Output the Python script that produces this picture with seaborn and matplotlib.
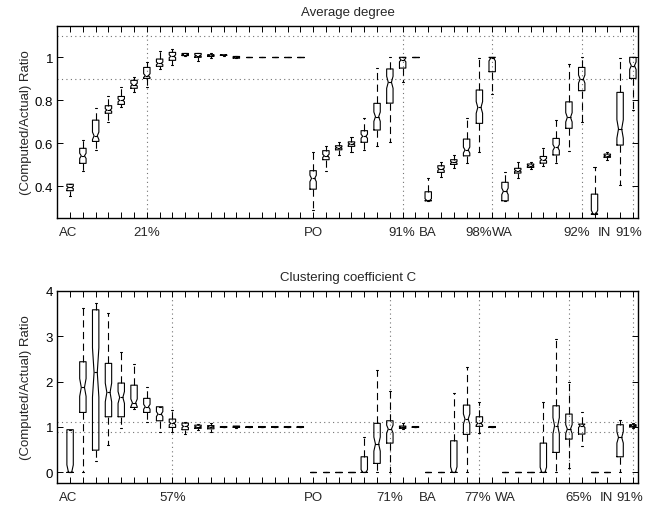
import numpy as np
import pandas as pd
import matplotlib
matplotlib.use("Agg")
import matplotlib.pyplot as plt
from matplotlib.transforms import ScaledTranslation
import seaborn as sns

# Graph families and the number of sampling levels in each
families = ["AC", "PO", "BA", "WA", "IN"]
family_sizes = [19, 9, 6, 7, 4]

# Average degree: (computed/actual) five-number summaries per sampling level
deg_lo = [0.355, 0.470, 0.569, 0.700, 0.767, 0.837, 0.860, 0.946, 0.966, 1.005,
          0.982, 0.998, 1.008, 0.995, 1.000, 1.000, 1.000, 1.000, 1.000,
          0.291, 0.473, 0.546, 0.561, 0.569, 0.586, 0.605, 0.884, 1.000,
          0.333, 0.445, 0.484, 0.508, 0.561, 0.830,
          0.333, 0.437, 0.480, 0.496, 0.508, 0.566, 0.698,
          0.271, 0.524, 0.407, 0.754]
deg_q1 = [0.380, 0.507, 0.609, 0.740, 0.781, 0.856, 0.902, 0.958, 0.986, 1.008,
          1.000, 1.004, 1.009, 0.996, 1.000, 1.000, 1.000, 1.000, 1.000,
          0.387, 0.524, 0.570, 0.586, 0.605, 0.662, 0.787, 0.950, 1.000,
          0.333, 0.465, 0.502, 0.542, 0.693, 0.933,
          0.333, 0.462, 0.488, 0.508, 0.546, 0.670, 0.845,
          0.271, 0.535, 0.592, 0.902]
deg_med = [0.395, 0.542, 0.635, 0.755, 0.800, 0.873, 0.915, 0.972, 1.005, 1.013,
           1.008, 1.008, 1.010, 1.000, 1.000, 1.000, 1.000, 1.000, 1.000,
           0.437, 0.542, 0.580, 0.597, 0.633, 0.724, 0.884, 0.988, 1.000,
           0.335, 0.480, 0.512, 0.569, 0.767, 0.995,
           0.377, 0.473, 0.496, 0.524, 0.581, 0.721, 0.899,
           0.273, 0.542, 0.667, 0.961]
deg_q3 = [0.410, 0.577, 0.708, 0.775, 0.818, 0.893, 0.953, 0.992, 1.023, 1.018,
          1.018, 1.012, 1.011, 1.004, 1.000, 1.000, 1.000, 1.000, 1.000,
          0.473, 0.566, 0.589, 0.607, 0.659, 0.786, 0.946, 1.000, 1.000,
          0.375, 0.496, 0.524, 0.620, 0.848, 1.000,
          0.419, 0.484, 0.504, 0.539, 0.623, 0.793, 0.953,
          0.364, 0.550, 0.837, 1.000]
deg_hi = [0.410, 0.615, 0.763, 0.820, 0.860, 0.907, 0.977, 1.028, 1.037, 1.020,
          1.020, 1.018, 1.012, 1.006, 1.000, 1.000, 1.000, 1.000, 1.000,
          0.561, 0.589, 0.607, 0.631, 0.719, 0.950, 1.000, 1.000, 1.000,
          0.437, 0.514, 0.546, 0.716, 0.997, 1.000,
          0.468, 0.512, 0.514, 0.577, 0.710, 0.969, 1.000,
          0.490, 0.561, 0.997, 1.000]

# Clustering coefficient C: (computed/actual) five-number summaries
clu_lo = [0.000, 0.000, 0.255, 0.600, 0.970, 1.390, 1.115, 0.880, 0.895, 0.844,
          0.940, 0.900, 0.990, 0.980, 0.990, 0.990, 0.990, 0.990, 0.990,
          0.000, 0.000, 0.000, 0.000, 0.000, 0.000, 0.000, 0.950, 0.990,
          0.000, 0.000, 0.000, 0.000, 0.859, 0.990,
          0.000, 0.000, 0.000, 0.000, 0.000, 0.088, 0.572,
          0.000, 0.000, 0.000, 0.980]
clu_q1 = [0.000, 1.320, 0.490, 1.225, 1.225, 1.430, 1.320, 1.137, 0.990, 0.940,
          0.970, 0.960, 0.990, 0.990, 0.990, 0.990, 0.990, 0.990, 0.990,
          0.000, 0.000, 0.000, 0.000, 0.000, 0.198, 0.645, 0.970, 0.990,
          0.000, 0.000, 0.000, 0.837, 1.013, 0.990,
          0.000, 0.000, 0.000, 0.000, 0.440, 0.733, 0.844,
          0.000, 0.000, 0.344, 1.000]
clu_med = [0.000, 1.870, 2.200, 1.760, 1.650, 1.530, 1.445, 1.284, 1.080, 1.013,
           1.000, 1.000, 1.000, 1.000, 1.000, 1.000, 1.000, 1.000, 1.000,
           0.000, 0.000, 0.000, 0.000, 0.000, 0.623, 0.954, 0.990, 1.000,
           0.000, 0.000, 0.000, 1.174, 1.080, 1.000,
           0.000, 0.000, 0.000, 0.000, 1.027, 0.954, 1.027,
           0.000, 0.000, 0.770, 1.027]
clu_q3 = [0.940, 2.436, 3.580, 2.400, 1.967, 1.920, 1.630, 1.445, 1.174, 1.086,
          1.040, 1.030, 1.010, 1.020, 1.010, 1.010, 1.010, 1.010, 1.010,
          0.000, 0.000, 0.000, 0.000, 0.344, 1.080, 1.137, 1.020, 1.010,
          0.000, 0.000, 0.696, 1.482, 1.225, 1.010,
          0.000, 0.000, 0.000, 0.645, 1.467, 1.284, 1.064,
          0.000, 0.000, 1.050, 1.050]
clu_hi = [0.940, 3.630, 3.740, 3.520, 2.660, 2.385, 1.885, 1.445, 1.372, 1.115,
          1.060, 1.086, 1.010, 1.030, 1.010, 1.010, 1.010, 1.010, 1.010,
          0.000, 0.000, 0.000, 0.000, 0.770, 2.260, 1.800, 1.090, 1.010,
          0.000, 0.000, 1.747, 2.326, 1.540, 1.010,
          0.000, 0.000, 0.000, 1.556, 2.936, 1.982, 1.335,
          0.000, 0.000, 1.152, 1.080]

# Level (within each family) at which the ratio settles into the 0.9-1.1 band
deg_mark_index = [6, 7, 5, 6, 3]
deg_mark_text = ["21%", "91%", "98%", "92%", "91%"]
clu_mark_index = [8, 6, 4, 5, 3]
clu_mark_text = ["57%", "71%", "77%", "65%", "91%"]

# Horizontal nudges (in levels) that keep crowded axis labels apart
deg_name_nudge = [-0.15, 0.0, 0.0, -0.2, 0.8]
deg_mark_nudge = [0.0, -0.05, -1.05, -0.4, -0.3]
clu_name_nudge = [-0.15, 0.0, 0.0, 0.0, 0.9]
clu_mark_nudge = [0.0, 0.0, -0.1, 0.8, -0.25]

# Each summary stands for this many sampled runs (sets the notch size)
RUNS_PER_LEVEL = 16


def runs_frame(lo, q1, med, q3, hi):
    """Expand every summary into a run sample with the same quartiles and extremes."""
    rows = []
    for level, summary in enumerate(zip(lo, q1, med, q3, hi)):
        for value in list(summary) * RUNS_PER_LEVEL:
            rows.append((level, value))
    return pd.DataFrame(rows, columns=["level", "ratio"])


sns.set_style("ticks")
plt.rcParams["font.family"] = ["Liberation Sans", "DejaVu Sans"]
plt.rcParams["font.size"] = 9.5

W, H = 653, 506
fig = plt.figure(figsize=(W / 100, H / 100), dpi=100)
ax_top = fig.add_axes([57.3 / W, 1 - 219 / H, 580.7 / W, 192.3 / H])
ax_bot = fig.add_axes([57.3 / W, 1 - 484.3 / H, 580.7 / W, 192.6 / H])

starts = np.cumsum([0] + family_sizes[:-1])
n_levels = sum(family_sizes)
dotted = (0, (1, 3))
whisker_dash = (0, (6.5, 4))


def draw_panel(ax, frame, mark_index, mark_text, name_nudge, mark_nudge,
               title, ylim, yticks):
    sns.boxplot(data=frame, x="level", y="ratio", ax=ax, fill=False,
                color="black", linewidth=0.8, width=0.5, whis=(0, 100),
                shownotches=True, capwidths=0.16,
                whiskerprops=dict(linestyle=whisker_dash),
                flierprops=dict(marker="+"))
    # Keep the notches inside the box, as the quartiles bound them
    for line in ax.lines:
        y = np.asarray(line.get_ydata(), dtype=float)
        if len(y) == 11:
            idx = [2, 4, 7, 9]
            y[idx] = np.clip(y[idx], min(y[0], y[5]), max(y[0], y[5]))
            line.set_ydata(y)

    for yv in (0.9, 1.1):
        ax.axhline(yv, color="0.45", lw=0.8, ls=dotted, zorder=0)

    # Tick marks at every level; family names and settling levels as labels
    ax.set_xticks(range(n_levels))
    ax.set_xticklabels([""] * n_levels)
    label_tf = ax.get_xaxis_transform() + ScaledTranslation(
        0, -5.5 / 72, fig.dpi_scale_trans)
    for s, fam, mi, mt, nn, mn in zip(starts, families, mark_index, mark_text,
                                      name_nudge, mark_nudge):
        ax.axvline(s + mi, color="0.45", lw=0.8, ls=dotted, zorder=0)
        ax.text(s + nn, 0, fam, transform=label_tf, ha="center", va="top",
                fontsize=9.5)
        ax.text(s + mi + mn, 0, mt, transform=label_tf, ha="center", va="top",
                fontsize=9.5)

    ax.set_xlim(-1, n_levels - 0.6)
    ax.set_ylim(*ylim)
    ax.set_yticks(yticks)
    ax.set_yticklabels([f"{t:g}" for t in yticks])
    ax.tick_params(axis="both", direction="in", top=True, right=True,
                   length=4.2, width=0.7, colors="black", labelsize=9.5)
    ax.tick_params(axis="y", pad=3)
    for sp in ax.spines.values():
        sp.set_visible(True)
        sp.set_linewidth(1.0)
        sp.set_color("black")
    ax.set_xlabel("")
    ax.set_ylabel("(Computed/Actual) Ratio", fontsize=9.5)
    ax.yaxis.set_label_coords(-0.044, 0.5)
    ax.set_title(title, fontsize=9.5, pad=8)


draw_panel(ax_top, runs_frame(deg_lo, deg_q1, deg_med, deg_q3, deg_hi),
           deg_mark_index, deg_mark_text, deg_name_nudge, deg_mark_nudge,
           "Average degree", (0.253, 1.147), [0.4, 0.6, 0.8, 1.0])
draw_panel(ax_bot, runs_frame(clu_lo, clu_q1, clu_med, clu_q3, clu_hi),
           clu_mark_index, clu_mark_text, clu_name_nudge, clu_mark_nudge,
           "Clustering coefficient C", (-0.24, 4.0), [0, 1, 2, 3, 4])

fig.savefig("out.png", dpi=100)
